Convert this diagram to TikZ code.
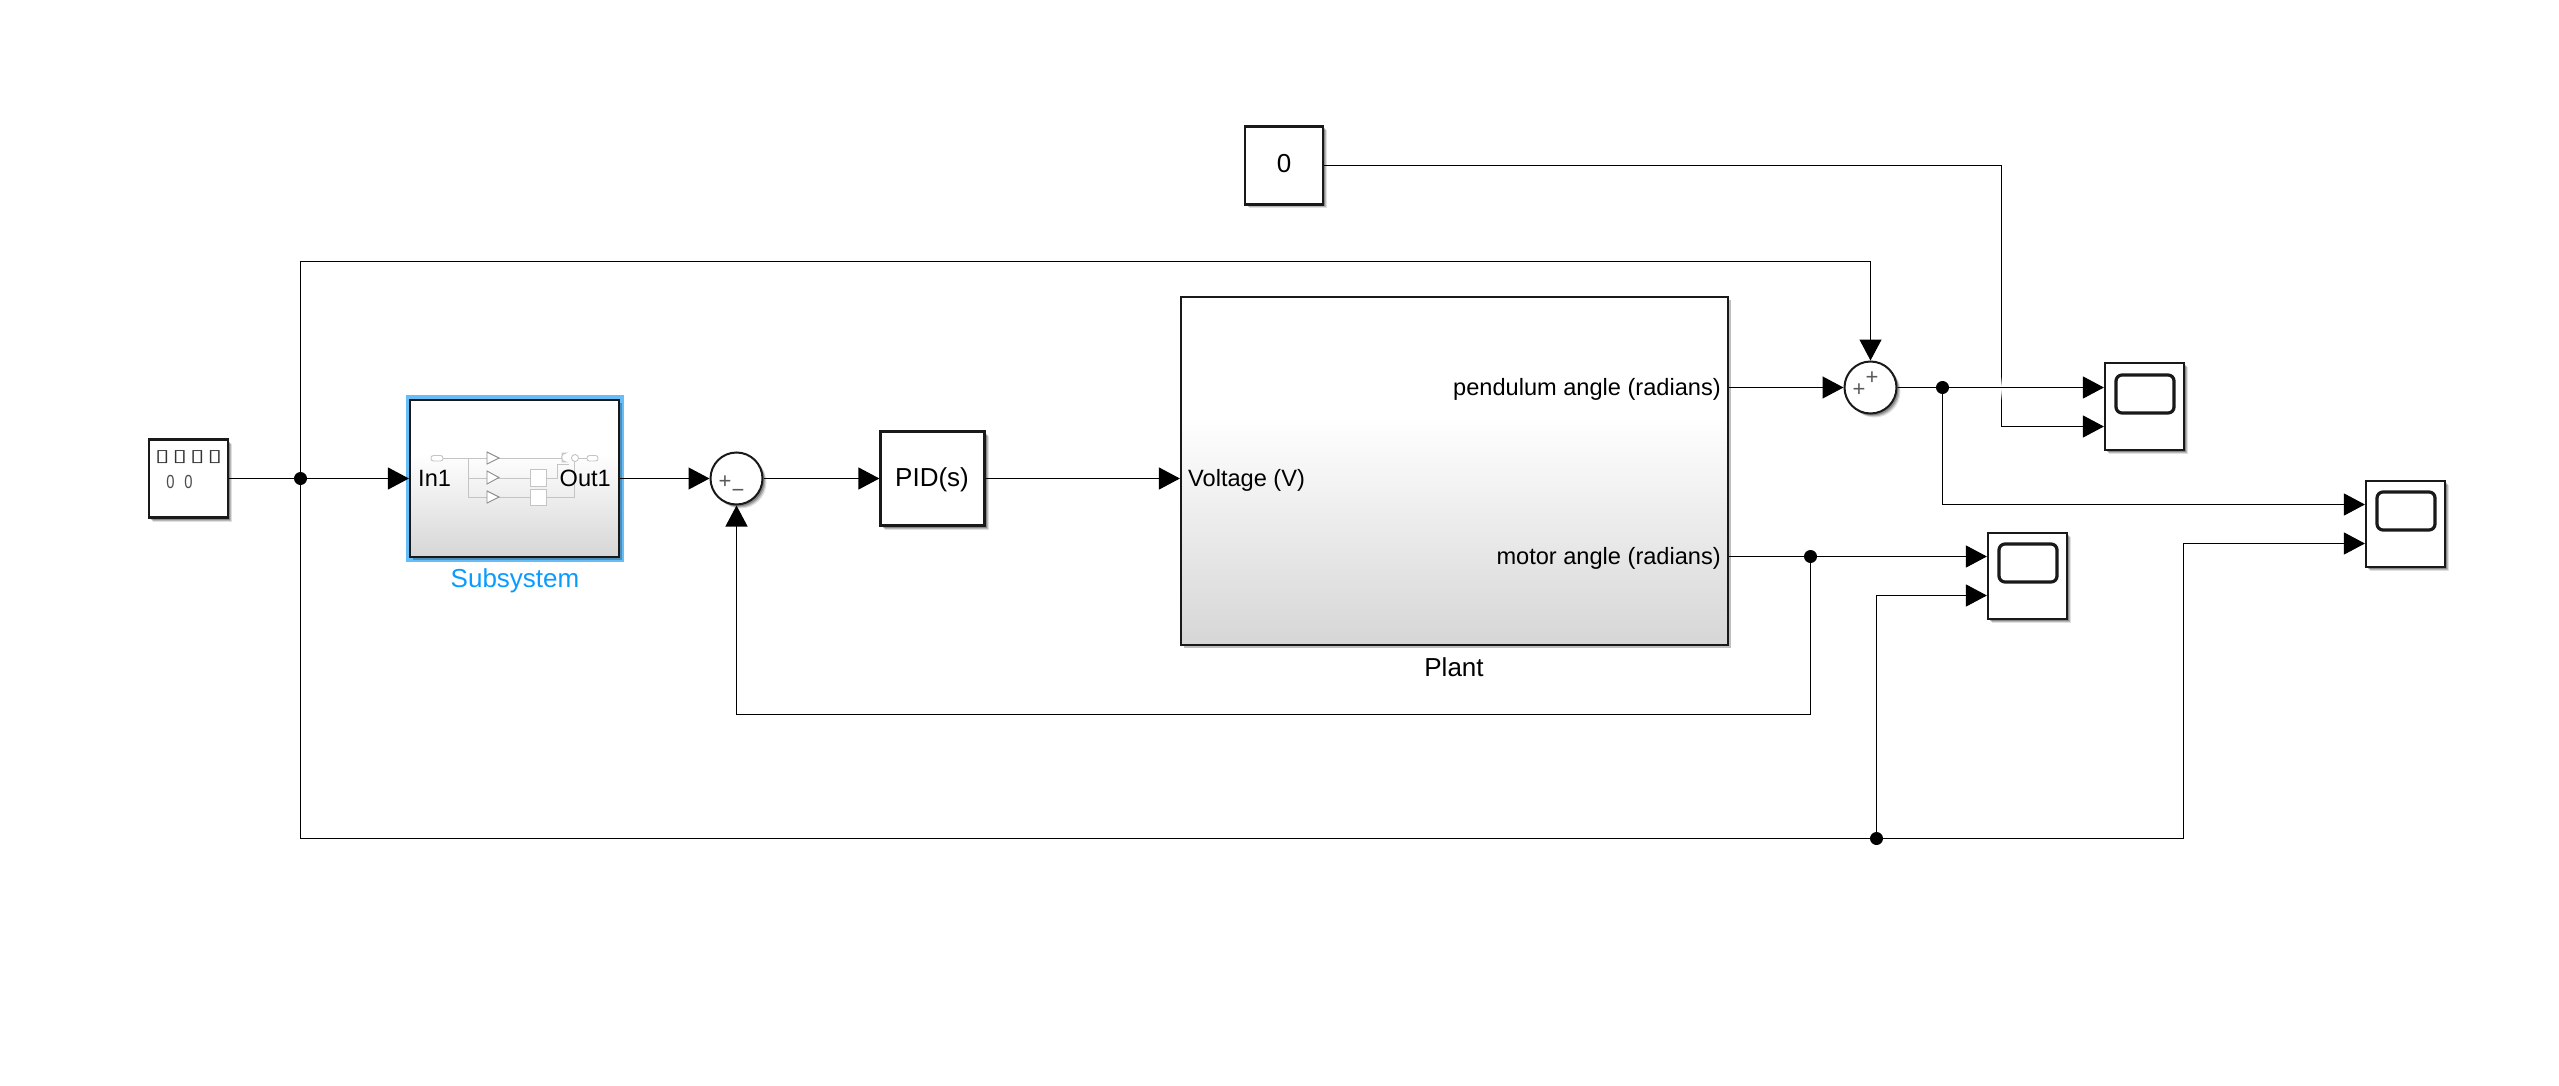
\documentclass[tikz,border=0pt]{standalone}
\usepackage{fontspec}
\setmainfont{Liberation Sans}
\newfontfamily\symfont{DejaVu Sans}
\usetikzlibrary{arrows.meta}
\definecolor{blockgray}{HTML}{D6D6D6}
\definecolor{selblue}{HTML}{66BDF7}
\definecolor{labelblue}{HTML}{0A9BFF}
\definecolor{miniline}{HTML}{C4C4C4}
\definecolor{minidark}{HTML}{8C8C8C}
\pgfdeclareverticalshading{blockshade}{100bp}{color(0bp)=(blockgray); color(25bp)=(blockgray); color(58bp)=(white); color(100bp)=(white)}
\newcommand{\fs}[1]{\fontsize{#1}{#1}\selectfont}
\newcommand{\gl}{\makebox[17.5pt]{\scalebox{1.55}[1]{▯}}}
\newcommand{\zr}{\makebox[18pt]{\scalebox{.82}[1.05]{0}}}
\tikzset{
  x=1pt,y=-1pt,
  softshadow/.style={
    preaction={fill=black,fill opacity=.12,transform canvas={xshift=4pt,yshift=-4pt}},
    preaction={fill=black,fill opacity=.18,transform canvas={xshift=3pt,yshift=-3pt}},
    preaction={fill=black,fill opacity=.25,transform canvas={xshift=2pt,yshift=-2pt}}},
  blockbox/.style={draw=black!90,line width=2.2pt,fill=white,inner sep=0pt,softshadow},
  gradbox/.style={draw=black!90,line width=2.2pt,shading=blockshade,inner sep=0pt,
    preaction={fill=black,fill opacity=.25,transform canvas={xshift=3pt,yshift=-3pt}}},
  sumnode/.style={circle,draw=black!90,line width=2pt,fill=white,inner sep=0pt,minimum size=52pt,softshadow},
  sig/.style={line width=1.25pt,draw=black},
  sigarrow/.style={sig,-{Triangle[length=21pt,width=22pt]}},
  junct/.style={circle,fill=black,inner sep=0pt,minimum size=13pt},
  lab/.style={inner sep=0pt,font=\fs{23.6}},
  bigLab/.style={inner sep=0pt,font=\fs{26}},
  signnode/.style={inner sep=0pt,font=\fs{22},text=black!65},
  scopescreen/.style={draw=black!90,line width=3.2pt,rounded corners=6pt,fill=white},
  mini/.style={draw=miniline,line width=.9pt},
  minitri/.style={draw=minidark,line width=.9pt,fill=white},
  miniport/.style={draw=miniline,line width=.9pt,fill=white,rounded corners=2.5pt},
}
\begin{document}
\begin{tikzpicture}
\useasboundingbox (0,0) rectangle (2559,1086);
\fill[white] (0,0) rectangle (2559,1086);

% blocks
\node[blockbox,minimum width=79pt,minimum height=78pt] (src) at (188.5,478.5) {};
\node[inner sep=0pt,font=\symfont\fs{17},text=black!80] (srcglyphs) at (188.5,457.5) {\gl\gl\gl\gl};
\node[inner sep=0pt,font=\fs{18},text=black!70] (srczeros) at (179.5,481.5) {\zr\zr};

\fill[selblue] (406,395) rectangle (624,562);
\node[gradbox,minimum width=209pt,minimum height=157pt] (subsys) at (514.5,478.5) {};
% subsystem miniature
\draw[mini] (443,458) -- (562,458);
\draw[mini] (468,458) -- (468,497) -- (530,497);
\draw[mini] (468,478) -- (530,478);
\draw[mini] (546,478) -- (557,478) -- (557,464) -- (569,464);
\draw[mini] (546,497) -- (574,497) -- (574,462);
\draw[mini] (578,458) -- (587,458);
\draw[minitri] (487,452) -- (499,458) -- (487,464) -- cycle;
\draw[minitri] (487,471) -- (499,477.5) -- (487,484) -- cycle;
\draw[minitri] (487,491) -- (499,497) -- (487,503) -- cycle;
\draw[miniport] (431,455.5) rectangle (443,461);
\draw[miniport] (587,455.5) rectangle (598,461);
\draw[mini,fill=white] (530,469) rectangle (546,486);
\draw[mini,fill=white] (530,489) rectangle (546,505);
\draw[mini,fill=white] (562,453) -- (566,453) arc[start angle=-90,end angle=90,radius=-4.5pt] -- (562,462) -- cycle;
\draw[mini,fill=white] (575,458) circle[radius=3.5pt];
\node[lab,anchor=west] (inlab) at (418,478) {In1};
\node[lab,anchor=east] (outlab) at (611,478) {Out1};
\node[bigLab,text=labelblue] (subslab) at (515,581) {Subsystem};

\node[sumnode] (sumA) at (736.5,478.5) {};
\node[signnode] (sumAp) at (725,482) {+};
\node[signnode] (sumAm) at (738,493) {−};

\node[blockbox,minimum width=104pt,minimum height=94pt] (pid) at (932.5,478.5) {};
\node[bigLab] (pidlab) at (932,480) {PID(s)};

\node[gradbox,minimum width=547pt,minimum height=348pt] (plant) at (1454.5,471) {};
\node[lab,anchor=west] (volt) at (1188,480) {Voltage (V)};
\node[lab,anchor=east] (pend) at (1721,389) {pendulum angle (radians)};
\node[lab,anchor=east] (mot) at (1721,558) {motor angle (radians)};
\node[bigLab] (plantlab) at (1454,667) {Plant};

\node[blockbox,minimum width=78pt,minimum height=78pt] (const) at (1284,165.5) {};
\node[bigLab] (constlab) at (1284,164) {0};

\node[sumnode] (sumB) at (1870.5,387.5) {};
\node[signnode] (sumBp) at (1872,378) {+};
\node[signnode] (sumBq) at (1859,390) {+};

\node[blockbox,minimum width=79pt,minimum height=87pt] (scopeA) at (2144.5,406.5) {};
\draw[scopescreen] (2116,375) rectangle (2174,413);
\node[blockbox,minimum width=79pt,minimum height=86pt] (scopeB) at (2027.5,576) {};
\draw[scopescreen] (1999,544) rectangle (2057,582);
\node[blockbox,minimum width=79pt,minimum height=86pt] (scopeC) at (2405.5,524) {};
\draw[scopescreen] (2377,492) rectangle (2435,530);

% junctions
\node[junct] (j1) at (300.5,478.5) {};
\node[junct] (j2) at (1942.5,387.5) {};
\node[junct] (j3) at (1810.5,556.5) {};
\node[junct] (j4) at (1876.5,838.5) {};

% free coordinates
\coordinate (cA1) at (300.5,261.5);
\coordinate (cA2) at (1870.5,261.5);
\coordinate (cB) at (300.5,838.5);
\coordinate (pA1) at (scopeA.west |- 0,387.5);
\coordinate (pA2) at (scopeA.west |- 0,426.5);
\coordinate (pB1) at (scopeB.west |- 0,556.5);
\coordinate (pB2) at (scopeB.west |- 0,595.5);
\coordinate (pC1) at (scopeC.west |- 0,504.5);
\coordinate (pC2) at (scopeC.west |- 0,543.5);
\coordinate (voltp) at (plant.west |- 0,478.5);
\coordinate (pendp) at (plant.east |- 0,387.5);
\coordinate (motp) at (plant.east |- 0,556.5);
\coordinate (fbk) at (1810.5,714.5);
\coordinate (fbk2) at (736.5,714.5);
\coordinate (cVx) at (2001.5,165.5);
\coordinate (cVy) at (2001.5,426.5);
\coordinate (b2a) at (1876.5,595.5);
\coordinate (c2a) at (2183.5,838.5);
\coordinate (c2b) at (2183.5,543.5);
\coordinate (j2a) at (1942.5,504.5);

% connectors
\draw[sigarrow] (const.east) -- (cVx) -- (cVy) -- (pA2);
% the crossing line fades out around the crossing
\foreach \yy/\op in {377/.1,378/.2,379/.3,380/.4,381/.5,382/.6,383/.7,384/.8,385/.9,386/1,387/1,388/1,389/1,390/.9,391/.85,392/.8,393/.7,394/.6,395/.5,396/.4,397/.3,398/.2,399/.1}
  \fill[white,opacity=\op] (2000,\yy) rectangle (2003,\yy+1);
\draw[sig] (src.east) -- (j1);
\draw[sigarrow] (j1) -- (subsys.west);
\draw[sigarrow] (subsys.east) -- (sumA.west);
\draw[sigarrow] (sumA.east) -- (pid.west);
\draw[sigarrow] (pid.east) -- (voltp);
\draw[sigarrow] (pendp) -- (sumB.west);
\draw[sig] (sumB.east) -- (j2);
\draw[sigarrow] (j2) -- (pA1);
\draw[sigarrow] (j2) -- (j2a) -- (pC1);
\draw[sig] (motp) -- (j3);
\draw[sigarrow] (j3) -- (pB1);
\draw[sigarrow] (j3) -- (fbk) -- (fbk2) -- (sumA.south);
\draw[sigarrow] (j1) -- (cA1) -- (cA2) -- (sumB.north);
\draw[sig] (j1) -- (cB) -- (j4);
\draw[sigarrow] (j4) -- (b2a) -- (pB2);
\draw[sigarrow] (j4) -- (c2a) -- (c2b) -- (pC2);
\end{tikzpicture}
\end{document}
